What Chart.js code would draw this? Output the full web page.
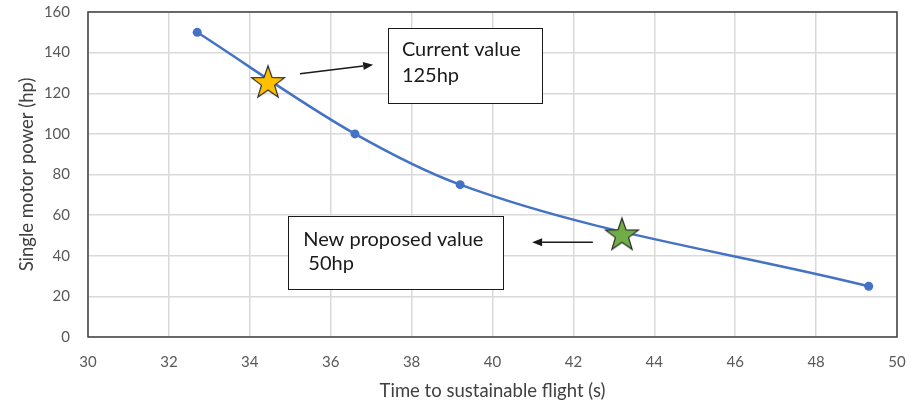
<!DOCTYPE html>
<html>
<head>
<meta charset="utf-8">
<script src="https://cdn.jsdelivr.net/npm/chart.js@4/dist/chart.umd.min.js"></script>
<style>
  html, body { margin: 0; padding: 0; background: #fff; }
  #wrap { width: 918px; height: 402px; }
</style>
</head>
<body>
<div id="wrap"><canvas id="c" width="918" height="402"></canvas></div>
<script>
// Motor power vs. time to sustainable flight
const flightTime = [32.7, 36.6, 39.2, 49.3];          // s
const motorPower = [150, 100, 75, 25];                // hp
const currentValue = { x: 34.45, y: 125 };            // current design, 125 hp
const proposedValue = { x: 43.2, y: 50 };             // proposed design, 50 hp
const xRange = { min: 30, max: 50, step: 2 };
const yRange = { min: 0, max: 160, step: 20 };
const currentLines = ['Current value', '125hp'];
const proposedLines = ['New proposed value', ' 50hp'];

const FONT = 'Lato, "Open Sans", sans-serif';

// filled five-point star used as a point marker
function makeStar(fill) {
  const size = 40;
  const c = document.createElement('canvas');
  c.width = size; c.height = size;
  const g = c.getContext('2d');
  const R = 17.3, r = R * 0.40, cx = size / 2, cy = size / 2;
  g.beginPath();
  for (let i = 0; i < 10; i++) {
    const rad = i % 2 === 0 ? R : r;
    const a = -Math.PI / 2 + i * Math.PI / 5;
    const px = cx + rad * Math.cos(a), py = cy + rad * Math.sin(a);
    if (i === 0) g.moveTo(px, py); else g.lineTo(px, py);
  }
  g.closePath();
  g.fillStyle = fill;
  g.fill();
  g.lineWidth = 1.2;
  g.strokeStyle = '#2b2b2b';
  g.stroke();
  return c;
}

// callout boxes and arrows, positioned in data units
const callouts = [
  { box: [37.42, 152.1, 41.22, 115.3], lines: currentLines, textX: 37.76, lineY: [141.7, 128.5],
    arrow: [35.24, 129.6, 37.05, 134.0] },
  { box: [34.94, 59.4, 40.26, 23.6], lines: proposedLines, textX: 35.32, lineY: [48.1, 36.3],
    arrow: [42.48, 46.6, 40.98, 46.6] }
];

const calloutPlugin = {
  id: 'callouts',
  beforeDatasetsDraw(chart) {
    const { ctx, chartArea: a } = chart;
    ctx.save();
    ctx.strokeStyle = '#404040';
    ctx.lineWidth = 1.5;
    ctx.strokeRect(a.left, a.top, a.right - a.left, a.bottom - a.top);
    ctx.restore();
  },
  afterDatasetsDraw(chart) {
    const { ctx, scales: { x, y } } = chart;
    ctx.save();
    callouts.forEach(c => {
      const x0 = Math.round(x.getPixelForValue(c.box[0])) + 0.5;
      const y0 = Math.round(y.getPixelForValue(c.box[1])) + 0.5;
      const x1 = Math.round(x.getPixelForValue(c.box[2])) + 0.5;
      const y1 = Math.round(y.getPixelForValue(c.box[3])) + 0.5;
      ctx.fillStyle = '#ffffff';
      ctx.fillRect(x0, y0, x1 - x0, y1 - y0);
      ctx.strokeStyle = '#1a1a1a';
      ctx.lineWidth = 1;
      ctx.strokeRect(x0, y0, x1 - x0, y1 - y0);
      ctx.fillStyle = '#1a1a1a';
      ctx.font = '20px ' + FONT;
      ctx.textBaseline = 'middle';
      ctx.textAlign = 'left';
      c.lines.forEach((t, i) => {
        ctx.fillText(t, x.getPixelForValue(c.textX), y.getPixelForValue(c.lineY[i]));
      });
      // arrow
      const ax0 = x.getPixelForValue(c.arrow[0]), ay0 = y.getPixelForValue(c.arrow[1]);
      const ax1 = x.getPixelForValue(c.arrow[2]), ay1 = y.getPixelForValue(c.arrow[3]);
      const ang = Math.atan2(ay1 - ay0, ax1 - ax0);
      const hl = 10, hw = 4;
      const bx = ax1 - hl * Math.cos(ang), by = ay1 - hl * Math.sin(ang);
      ctx.strokeStyle = '#1a1a1a';
      ctx.lineWidth = 1.5;
      ctx.beginPath();
      ctx.moveTo(ax0, ay0);
      ctx.lineTo(bx, by);
      ctx.stroke();
      ctx.beginPath();
      ctx.moveTo(ax1, ay1);
      ctx.lineTo(bx + hw * Math.sin(ang), by - hw * Math.cos(ang));
      ctx.lineTo(bx - hw * Math.sin(ang), by + hw * Math.cos(ang));
      ctx.closePath();
      ctx.fillStyle = '#1a1a1a';
      ctx.fill();
    });
    ctx.restore();
  }
};

new Chart(document.getElementById('c'), {
  type: 'line',
  data: {
    datasets: [
      {
        label: 'Current value',
        data: [currentValue],
        pointStyle: makeStar('#FFC000'),
        pointRadius: 17,
        showLine: false,
        order: 0
      },
      {
        label: 'New proposed value',
        data: [proposedValue],
        pointStyle: makeStar('#70AD47'),
        pointRadius: 17,
        showLine: false,
        order: 0
      },
      {
        label: 'Single motor power',
        data: flightTime.map((t, i) => ({ x: t, y: motorPower[i] })),
        borderColor: '#4472C4',
        backgroundColor: '#4472C4',
        borderWidth: 2.5,
        pointRadius: 4.5,
        pointBackgroundColor: '#4472C4',
        pointBorderWidth: 0,
        cubicInterpolationMode: 'monotone',
        order: 1
      }
    ]
  },
  options: {
    responsive: false,
    animation: false,
    devicePixelRatio: 1,
    layout: { autoPadding: false, padding: { top: 12, right: 21, left: 0, bottom: 0 } },
    plugins: { legend: { display: false }, tooltip: { enabled: false } },
    scales: {
      x: {
        type: 'linear',
        min: xRange.min, max: xRange.max,
        afterFit(s) { s.height = 65; s.paddingLeft = 0; s.paddingRight = 0; },
        ticks: { stepSize: xRange.step, padding: 16, color: '#595959', font: { family: FONT, size: 15 } },
        grid: { color: '#d9d9d9', lineWidth: 1.5, drawTicks: false },
        border: { display: false },
        title: { display: true, text: 'Time to sustainable flight (s)', color: '#404040',
                 font: { family: FONT, size: 18.5 }, padding: { top: 0, bottom: 0 } }
      },
      y: {
        min: yRange.min, max: yRange.max,
        afterFit(s) { s.width = 88; s.paddingTop = 0; s.paddingBottom = 0; },
        ticks: { stepSize: yRange.step, padding: 18, color: '#595959', font: { family: FONT, size: 15 } },
        grid: { color: '#d9d9d9', lineWidth: 1.5, drawTicks: false },
        border: { display: false },
        title: { display: true, text: 'Single motor power (hp)', color: '#404040',
                 font: { family: FONT, size: 18.5 }, padding: { top: 16, bottom: 0 } }
      }
    }
  },
  plugins: [calloutPlugin]
});
</script>
</body>
</html>
